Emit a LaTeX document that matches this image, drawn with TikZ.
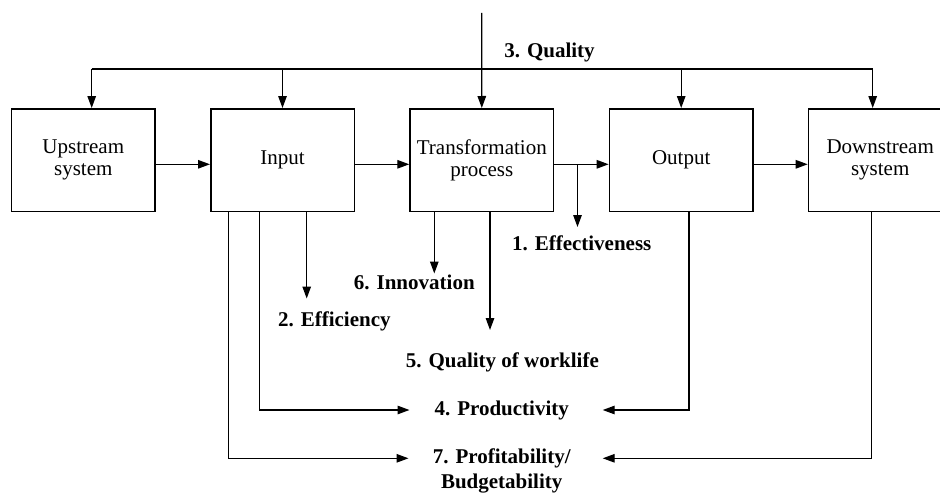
\documentclass[tikz,border=0pt]{standalone}
\usepackage{fontspec}
\setmainfont{Liberation Serif}
\usetikzlibrary{arrows.meta}
\begin{document}
\begin{tikzpicture}[x=1pt,y=-1pt,
  box/.style={draw,line width=1.5pt,minimum width=143.5pt,minimum height=102.5pt,inner sep=0pt,align=center,font=\fontsize{21}{22}\selectfont},
  lbl/.style={font=\fontsize{21}{25}\selectfont\bfseries,align=center,inner sep=1pt},
  ln/.style={line width=1.3pt},
  arr/.style={line width=1.3pt,-{Triangle[length=12pt,width=8.5pt]}}]
\clip (0,0) rectangle (940,495);
\useasboundingbox (0,0) rectangle (940,495);
% boxes
\node[box] (up) at (83.3,160) {Upstream\\system};
\node[box] (in) at (282.5,160) {Input};
\node[box] (tr) at (481.8,160) {Transformation\\process};
\node[box] (out) at (681.2,160) {Output};
\node[box] (dn) at (880.2,160) {Downstream\\system};
% labels
\node[lbl] (q3) at (549.5,52) {3. Quality};
\node[lbl] (eff) at (581.7,243.5) {1. Effectiveness};
\node[lbl] (eff2) at (334.3,321.7) {2. Efficiency};
\node[lbl] (inn) at (414.3,282.7) {6. Innovation};
\node[lbl] (qwl) at (502.3,362.3) {5. Quality of worklife};
\node[lbl] (prod) at (501.7,410) {4. Productivity};
\node[lbl] (prof) at (501.7,470.5) {7. Profitability/\\Budgetability};
% coordinates
\coordinate (src) at (481.7,13);
\coordinate (tl) at (91.7,69);
\coordinate (tr2) at (872.7,69);
\coordinate (effend) at (577.5,227);
\coordinate (eff2end) at (306.7,298.5);
\coordinate (innend) at (434.3,273.5);
\coordinate (qwlend) at (490,330);
\coordinate (prodL) at (409.5,410);
\coordinate (prodR) at (602.7,410);
\coordinate (profL) at (408.5,458.3);
\coordinate (profR) at (602.7,458.3);
% quality feed
\draw[arr] (src) -- (tr.north);
\draw[ln] (tl) -- (tr2);
\draw[arr] (tl) -- (tl |- up.north);
\draw[arr] (in.north |- tl) -- (in.north);
\draw[arr] (out.north |- tl) -- (out.north);
\draw[arr] (tr2) -- (tr2 |- dn.north);
% main flow
\draw[arr] (up.east |- 0,164.3) -- (in.west |- 0,164.3);
\draw[arr] (in.east |- 0,164.3) -- (tr.west |- 0,164.3);
\draw[arr] (tr.east |- 0,164.3) -- (out.west |- 0,164.3);
\draw[arr] (out.east |- 0,164.3) -- (dn.west |- 0,164.3);
% effectiveness
\draw[arr] (effend |- 0,164.3) -- (effend);
% input measures
\draw[arr] (eff2end |- in.south) -- (eff2end);
\draw[arr] (259.3,0 |- in.south) -- (259.3,410) -- (prodL);
\draw[arr] (228.3,0 |- in.south) -- (228.3,458.3) -- (profL);
% transformation measures
\draw[arr] (innend |- tr.south) -- (innend);
\draw[arr] (qwlend |- tr.south) -- (qwlend);
% output / downstream
\draw[arr] (689,0 |- out.south) -- (689,410) -- (prodR);
\draw[arr] (871.7,0 |- dn.south) -- (871.7,458.3) -- (profR);
\end{tikzpicture}
\end{document}
